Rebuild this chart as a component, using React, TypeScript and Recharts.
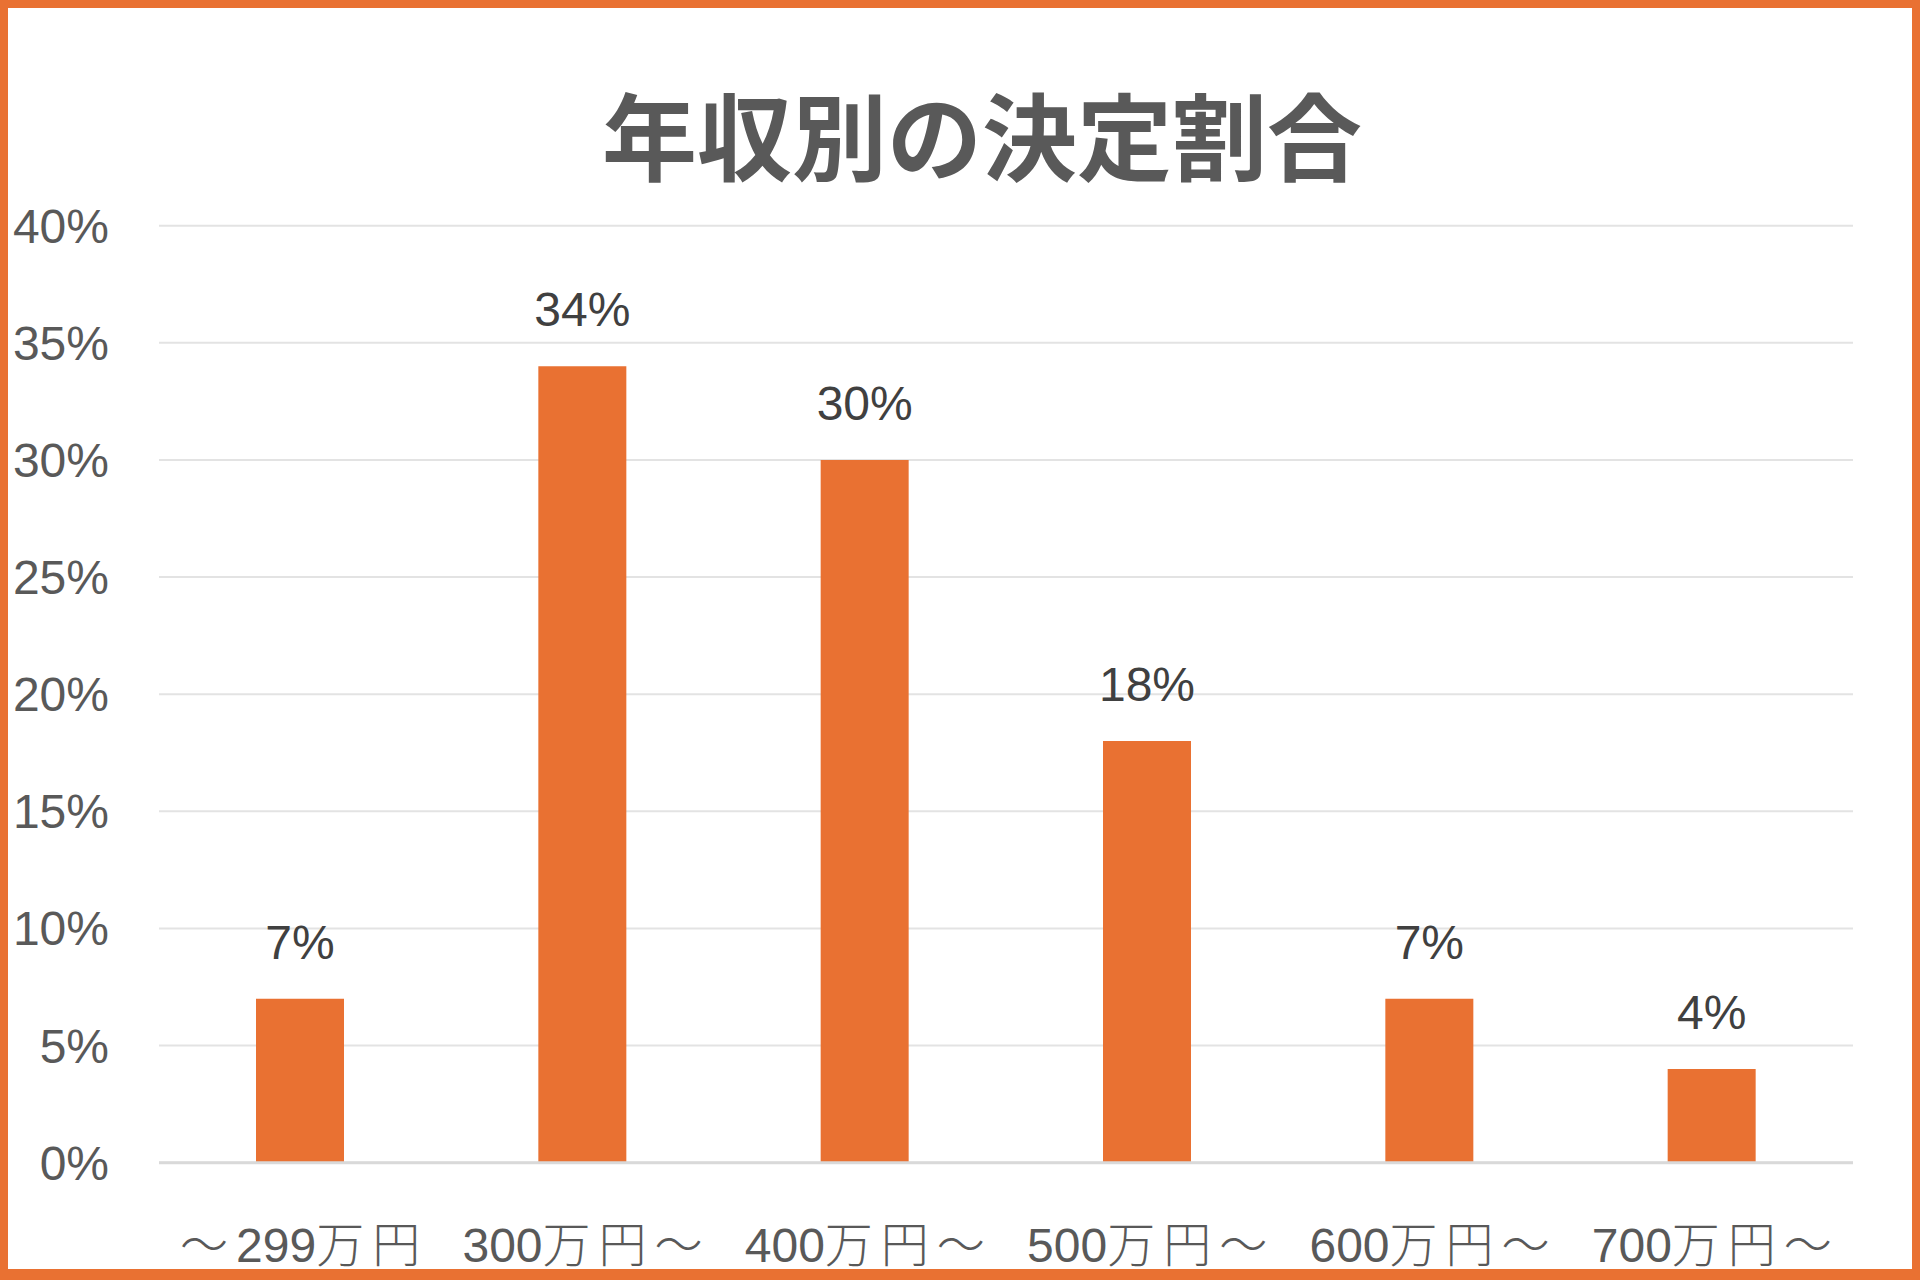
import React from 'react';
import { BarChart, Bar, XAxis, YAxis, CartesianGrid, LabelList } from 'recharts';

const categories = ['～299万円', '300万円～', '400万円～', '500万円～', '600万円～', '700万円～'];
const shares = [7, 34, 30, 18, 7, 4];
const yTicks = [0, 5, 10, 15, 20, 25, 30, 35, 40];
const title = '年収別の決定割合';

const data = categories.map((c, i) => ({ name: c, value: shares[i] }));

const ORANGE = '#E97132';
const FONT = '"Liberation Sans", Arial, "Noto Sans CJK JP", sans-serif';
const CJK = '"Noto Sans CJK JP", sans-serif';

function splitRuns(s: string) {
  const runs: { text: string; cjk: boolean }[] = [];
  for (const ch of s) {
    const cjk = ch.charCodeAt(0) > 255;
    const last = runs[runs.length - 1];
    if (last && last.cjk === cjk) last.text += ch;
    else runs.push({ text: ch, cjk });
  }
  return runs;
}

const CatTick = (props: any) => {
  const { x, y, payload } = props;
  const runs = splitRuns(String(payload.value));
  return (
    <text x={x + 4} y={y} dy="0.71em" textAnchor="middle" fill="#595959" fontSize={48} fontFamily={FONT}>
      {runs.map((r, i) =>
        r.cjk ? (
          <tspan key={i} fontFamily={CJK} fontWeight={300} letterSpacing={8}>
            {r.text}
          </tspan>
        ) : (
          <tspan key={i} fontFamily={FONT}>
            {r.text}
          </tspan>
        )
      )}
    </text>
  );
};

export default function App() {
  return (
    <div
      style={{
        position: 'absolute',
        left: 0,
        top: 0,
        width: 1920,
        height: 1280,
        boxSizing: 'border-box',
        borderStyle: 'solid',
        borderColor: ORANGE,
        borderWidth: '8px 8px 11px 8px',
        background: '#fff',
        fontFamily: FONT,
      }}
    >
      <svg width={1904} height={260} style={{ position: 'absolute', left: 0, top: 0 }}>
        <text
          x={974}
          y={166}
          textAnchor="middle"
          fontFamily={CJK}
          fontWeight={700}
          fontSize={95}
          fill="#595959"
        >
          {title}
        </text>
      </svg>
      <div style={{ position: 'absolute', left: 0, top: 0 }}>
        <BarChart
          width={1904}
          height={1272}
          data={data}
          margin={{ top: 217.7, right: 59, bottom: 17.3, left: 0 }}
        >
          <CartesianGrid vertical={false} stroke="#E3E3E3" strokeWidth={2} />
          <XAxis
            dataKey="name"
            height={100}
            tickLine={false}
            tickSize={0}
            tickMargin={65}
            axisLine={{ stroke: '#D9D9D9', strokeWidth: 3 }}
            tick={<CatTick />}
            interval={0}
          />
          <YAxis
            width={151}
            domain={[0, 40]}
            ticks={yTicks}
            tickFormatter={(v: number) => `${v}%`}
            axisLine={false}
            tickLine={false}
            tickSize={0}
            tickMargin={50}
            tick={{ fill: '#595959', fontSize: 48, fontFamily: FONT }}
          />
          <Bar dataKey="value" fill={ORANGE} barSize={88} isAnimationActive={false}>
            <LabelList
              dataKey="value"
              position="top"
              offset={40}
              formatter={(v: number) => `${v}%`}
              style={{ fill: '#404040', fontSize: 48, fontFamily: FONT }}
            />
          </Bar>
        </BarChart>
      </div>
    </div>
  );
}
